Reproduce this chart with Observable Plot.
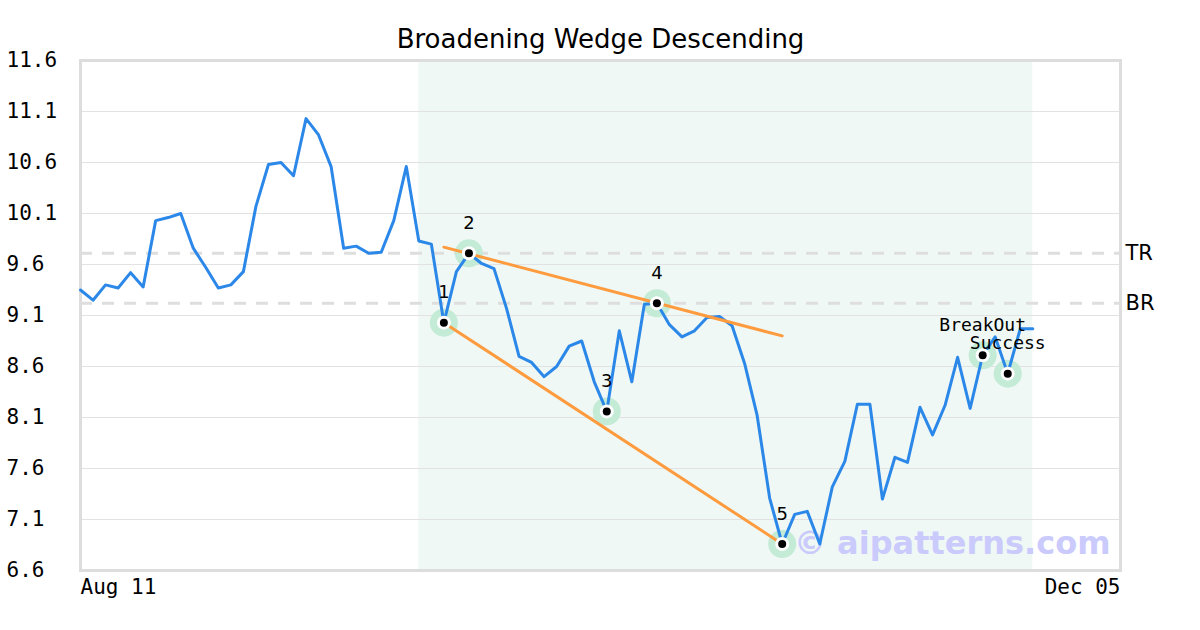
<!DOCTYPE html>
<html>
<head>
<meta charset="utf-8">
<script src="https://cdn.jsdelivr.net/npm/d3@7"></script>
<script src="https://cdn.jsdelivr.net/npm/@observablehq/plot@0.6"></script>
<style>
  html, body { margin: 0; padding: 0; background: white; }
</style>
</head>
<body>
<div id="chart"></div>
<script>
const titleText = "Broadening Wedge Descending";
const xTickIndex = [0, 83];
const xTickLabels = ["Aug 11", "Dec 05"];
const yTicks = [6.6, 7.1, 7.6, 8.1, 8.6, 9.1, 9.6, 10.1, 10.6, 11.1, 11.6];

const prices = [
  9.35, 9.25, 9.40, 9.37, 9.52, 9.38, 10.03, 10.06, 10.10, 9.76,
  9.57, 9.37, 9.40, 9.53, 10.17, 10.58, 10.60, 10.47, 11.03, 10.87,
  10.56, 9.76, 9.78, 9.71, 9.72, 10.03, 10.56, 9.83, 9.80, 9.03,
  9.53, 9.71, 9.61, 9.56, 9.17, 8.70, 8.64, 8.50, 8.60, 8.80,
  8.85, 8.45, 8.16, 8.95, 8.45, 9.21, 9.22, 9.01, 8.89, 8.95,
  9.08, 9.09, 9.00, 8.63, 8.12, 7.31, 6.86, 7.15, 7.18, 6.86,
  7.42, 7.67, 8.23, 8.23, 7.30, 7.71, 7.66, 8.20, 7.93, 8.22,
  8.69, 8.19, 8.71, 8.89, 8.53, 8.97, 8.97
];

const patternIdx = [29, 31, 42, 46, 56];
const patternLabels = ["1", "2", "3", "4", "5"];
const signalIdx = [72, 74];
const signalLabels = ["BreakOut", "Success"];

const shadeRange = [27, 76];
const levelValues = [9.71, 9.22];
const levelLabels = ["TR", "BR"];

const upperX = [29, 56], upperY = [9.77, 8.90];
const lowerX = [29, 56], lowerY = [9.03, 6.86];

const watermark = "© aipatterns.com";

// tables
const series = prices.map((v, i) => ({i, v}));
const patternPts = patternIdx.map((i, k) => ({i, v: prices[i], label: patternLabels[k]}));
const signalPts = signalIdx.map((i, k) => ({i, v: prices[i], label: signalLabels[k]}));
const allPts = patternPts.concat(signalPts);
const trend = [
  ...upperX.map((x, k) => ({line: "upper", i: x, v: upperY[k]})),
  ...lowerX.map((x, k) => ({line: "lower", i: x, v: lowerY[k]}))
];
const levels = levelValues.map((v, k) => ({v, label: levelLabels[k]}));

const mono = "DejaVu Sans Mono";
const sans = "DejaVu Sans";

const chart = Plot.plot({
  width: 1200,
  height: 630,
  marginTop: 60,
  marginBottom: 60,
  marginLeft: 80,
  marginRight: 80,
  style: {fontFamily: mono, fontSize: "21px", background: "white", color: "black"},
  x: {type: "linear", domain: [0, 83]},
  y: {type: "linear", domain: [6.6, 11.6]},
  marks: [
    Plot.rect([{x1: shadeRange[0], x2: shadeRange[1]}], {x1: "x1", x2: "x2", fill: "#eff8f4"}),
    Plot.gridY(yTicks, {stroke: "#e2e2e2", strokeOpacity: 1, strokeWidth: 1}),
    Plot.ruleY(levels, {y: "v", stroke: "#dedede", strokeWidth: 3, strokeDasharray: "12,10"}),
    Plot.text(levels, {y: "v", text: "label", frameAnchor: "right", dx: 5, textAnchor: "start", lineAnchor: "middle", fontFamily: sans, fontSize: 21, fill: "black"}),
    Plot.frame({stroke: "#dddddd", strokeWidth: 3}),
    Plot.axisY(yTicks, {tickSize: 0, tickPadding: 0, dx: -74, textAnchor: "start", tickFormat: d => d.toFixed(1), fontFamily: mono, fontSize: 21, label: null}),
    Plot.axisX([xTickIndex[0]], {tickSize: 0, tickPadding: 9, textAnchor: "start", tickFormat: () => xTickLabels[0], fontFamily: mono, fontSize: 21, label: null}),
    Plot.axisX([xTickIndex[1]], {tickSize: 0, tickPadding: 9, textAnchor: "end", tickFormat: () => xTickLabels[1], fontFamily: mono, fontSize: 21, label: null}),
    Plot.text([watermark], {frameAnchor: "bottom-right", dx: -10, dy: -27, textAnchor: "end", lineAnchor: "middle", fontFamily: sans, fontWeight: "bold", fontSize: 32, fill: "#cacafc"}),
    Plot.dot(allPts, {x: "i", y: "v", r: 14, fill: "#c3ebd6", stroke: "none"}),
    Plot.line(series, {x: "i", y: "v", stroke: "#2b88e9", strokeWidth: 3}),
    Plot.line(trend, {x: "i", y: "v", z: "line", stroke: "#fd9b3e", strokeWidth: 3}),
    Plot.dot(allPts, {x: "i", y: "v", r: 7, fill: "white", stroke: "none"}),
    Plot.dot(allPts, {x: "i", y: "v", r: 4, fill: "black", stroke: "none"}),
    Plot.text(patternPts, {x: "i", y: "v", text: "label", dy: -30, fontFamily: sans, fontSize: 18, fill: "black"}),
    Plot.text(signalPts, {x: "i", y: "v", text: "label", dy: -30, fontFamily: mono, fontSize: 18, fill: "black"}),
    Plot.text([titleText], {frameAnchor: "top", dy: -21, lineAnchor: "middle", fontFamily: sans, fontSize: 26, fill: "black"})
  ]
});
document.getElementById("chart").appendChild(chart);
</script>
</body>
</html>
